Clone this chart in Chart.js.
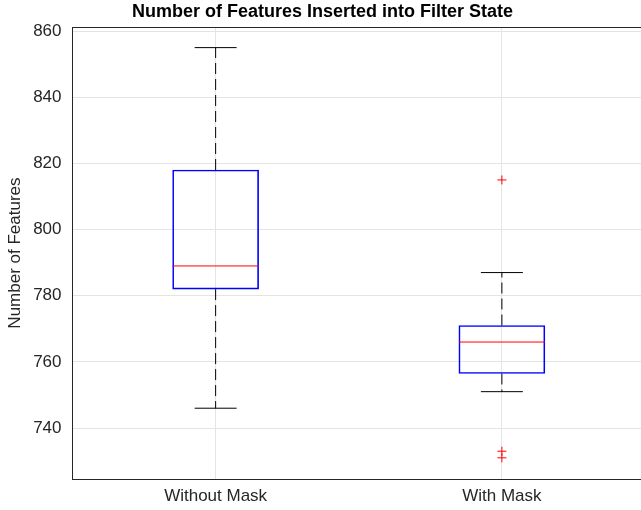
<!DOCTYPE html>
<html>
<head>
<meta charset="utf-8">
<script src="https://cdn.jsdelivr.net/npm/chart.js@4/dist/chart.umd.min.js"></script>
<style>
  html, body { margin: 0; padding: 0; overflow: hidden; background: #fff; }
  #wrap { width: 650px; height: 510px; }
</style>
</head>
<body>
<div id="wrap"><canvas id="boxChart"></canvas></div>
<script>
// Valores
const groups = ["Without Mask", "With Mask"];
const whiskerLow = [746, 751];
const q1 = [782, 756.5];
const median = [789, 766];
const q3 = [818, 771];
const whiskerHigh = [855, 787];
const outliers = [[], [815, 733, 731]];
const yTicks = [740, 760, 780, 800, 820, 840, 860];

const axisColor = "#262626";
const gridColor = "#e4e4e4";
const font = "'Liberation Sans', Arial, Helvetica, sans-serif";

// bigotes: segmento superior e inferior por grupo, separados con null
const whiskerPoints = [];
groups.forEach((g, i) => {
  whiskerPoints.push({ x: g, y: q3[i] }, { x: g, y: whiskerHigh[i] }, { x: g, y: null });
  whiskerPoints.push({ x: g, y: q1[i] }, { x: g, y: whiskerLow[i] }, { x: g, y: null });
});

const capPoints = [];
groups.forEach((g, i) => {
  capPoints.push({ x: g, y: whiskerHigh[i] }, { x: g, y: whiskerLow[i] });
});

const medianPoints = groups.map((g, i) => ({ x: g, y: median[i] }));

const outlierPoints = [];
groups.forEach((g, i) => {
  outliers[i].forEach((v) => outlierPoints.push({ x: g, y: v }));
});

const ctx = document.getElementById("boxChart").getContext("2d");

new Chart(ctx, {
  type: "bar",
  data: {
    labels: groups,
    datasets: [
      {
        type: "line",
        data: whiskerPoints,
        borderColor: "#000",
        borderWidth: 1,
        borderDash: [11, 5],
        pointRadius: 0,
        spanGaps: false,
        order: 4,
      },
      {
        type: "bar",
        data: groups.map((g, i) => [q1[i], q3[i]]),
        backgroundColor: "rgba(0,0,0,0)",
        borderColor: "#0000ff",
        borderWidth: 1,
        borderSkipped: false,
        barThickness: 86,
        order: 3,
      },
      {
        type: "line",
        data: capPoints,
        showLine: false,
        pointStyle: "line",
        pointRadius: 21,
        pointBorderColor: "#000",
        pointBorderWidth: 1,
        order: 2,
      },
      {
        type: "line",
        data: medianPoints,
        showLine: false,
        pointStyle: "line",
        pointRadius: 43,
        pointBorderColor: "#ff0000",
        pointBorderWidth: 1,
        order: 1,
      },
      {
        type: "line",
        data: outlierPoints,
        showLine: false,
        pointStyle: "cross",
        pointRadius: 4.5,
        pointBorderColor: "#ff0000",
        pointBorderWidth: 1,
        order: 0,
      },
    ],
  },
  options: {
    responsive: true,
    maintainAspectRatio: false,
    animation: false,
    layout: { autoPadding: false, padding: { left: 0, right: 5, top: 0, bottom: 3 } },
    plugins: {
      legend: { display: false },
      tooltip: { enabled: false },
      title: {
        display: true,
        text: "Number of Features Inserted into Filter State",
        color: "#000",
        font: { family: font, size: 18, weight: "bold" },
        padding: { top: 1.5, bottom: 4 },
      },
    },
    scales: {
      x: {
        type: "category",
        offset: true,
        grid: { color: gridColor, offset: false, drawTicks: false },
        border: { color: axisColor, width: 1 },
        ticks: { color: axisColor, padding: 7, font: { family: font, size: 17 } },
        afterFit: (axis) => { axis.height = 28; },
      },
      xTop: {
        type: "category",
        position: "top",
        offset: true,
        grid: { display: false, drawTicks: false },
        border: { display: true, color: axisColor, width: 1 },
        ticks: { display: false },
      },
      y: {
        min: 724.6,
        max: 861.2,
        afterBuildTicks: (axis) => {
          axis.ticks = yTicks.map((v) => ({ value: v }));
        },
        afterFit: (axis) => { axis.width = 72.5; },
        grid: { color: gridColor, drawTicks: false },
        border: { color: axisColor, width: 1 },
        ticks: { color: axisColor, padding: 11, font: { family: font, size: 17 } },
        title: {
          display: true,
          text: "Number of Features",
          color: axisColor,
          font: { family: font, size: 17 },
          padding: { top: 4.8, bottom: 7.9 },
        },
      },
    },
  },
});
</script>
</body>
</html>
